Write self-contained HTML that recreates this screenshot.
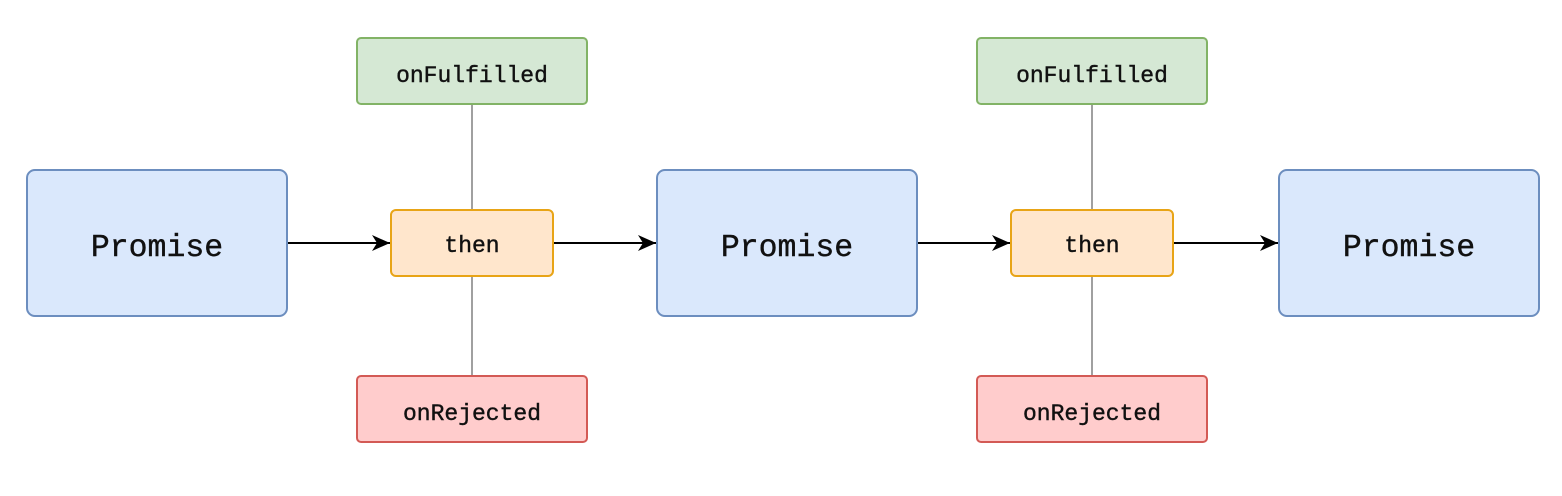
<!DOCTYPE html>
<html><head><style>
body{margin:0;background:#fff;width:1562px;height:491px;overflow:hidden}
</style></head><body>
<svg width="1562" height="491" xmlns="http://www.w3.org/2000/svg" font-family="'Liberation Mono', 'DejaVu Sans Mono', monospace">
<defs>
<marker id="b" viewBox="0 0 20 20" markerWidth="20" markerHeight="20" refX="18" refY="10" orient="auto" markerUnits="userSpaceOnUse"><path d="M0,2 L18,10 L0,18 L5,10z" fill="#000"/></marker></defs>
<g stroke="#a0a0a0" stroke-width="2">
<line x1="472" y1="104" x2="472" y2="376"/><line x1="1092" y1="104" x2="1092" y2="376"/>
</g>
<g stroke="#000" stroke-width="2" marker-end="url(#b)">
<line x1="287" y1="243" x2="390" y2="243"/><line x1="553" y1="243" x2="656" y2="243"/>
<line x1="917" y1="243" x2="1010" y2="243"/><line x1="1173" y1="243" x2="1278" y2="243"/>
</g>
<g fill="#dae8fc" stroke="#6c8ebf" stroke-width="2">
<rect x="27" y="170" width="260" height="146" rx="8"/><rect x="657" y="170" width="260" height="146" rx="8"/><rect x="1279" y="170" width="260" height="146" rx="8"/>
</g>
<g fill="#ffe6cc" stroke="#e8a416" stroke-width="2">
<rect x="391" y="210" width="162" height="66" rx="5"/><rect x="1011" y="210" width="162" height="66" rx="5"/>
</g>
<g fill="#d5e8d4" stroke="#82b366" stroke-width="2">
<rect x="357" y="38" width="230" height="66" rx="4"/><rect x="977" y="38" width="230" height="66" rx="4"/>
</g>
<g fill="#ffcccc" stroke="#d35a55" stroke-width="2">
<rect x="357" y="376" width="230" height="66" rx="4"/><rect x="977" y="376" width="230" height="66" rx="4"/>
</g>
<g fill="#111" text-anchor="middle" stroke="#111" stroke-width="0.4">
<g font-size="31.5"><text x="157" y="256">Promise</text><text x="787" y="256">Promise</text><text x="1409" y="256">Promise</text></g>
<g font-size="23"><text x="472" y="252">then</text><text x="1092" y="252">then</text>
<text x="472" y="82">onFulfilled</text><text x="1092" y="82">onFulfilled</text>
<text x="472" y="420">onRejected</text><text x="1092" y="420">onRejected</text></g>
</g>
</svg>
</body></html>
